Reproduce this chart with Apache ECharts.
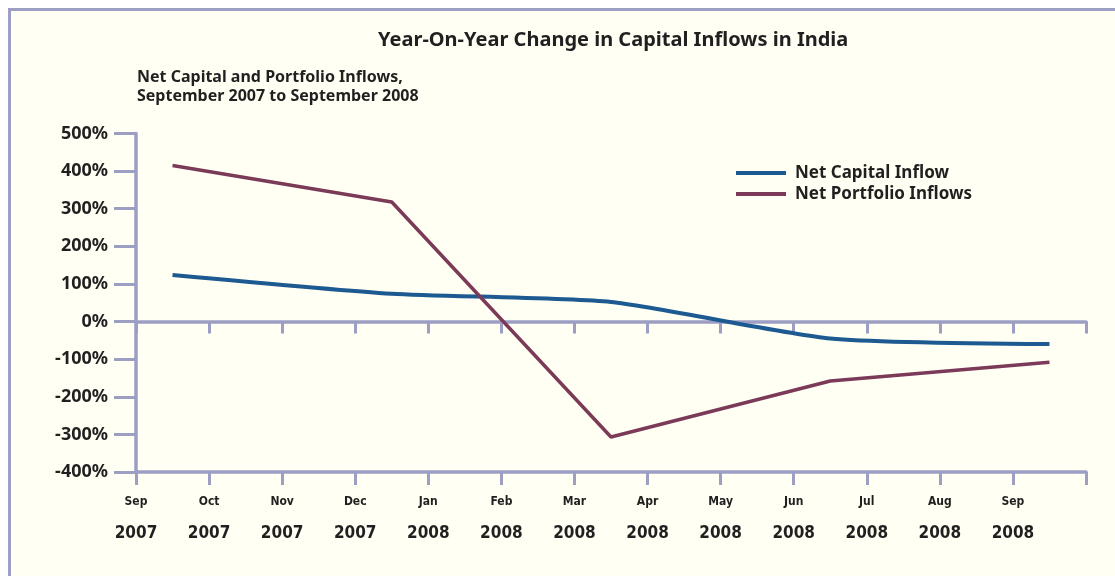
<!DOCTYPE html>
<html>
<head>
<meta charset="utf-8">
<script src="https://cdn.jsdelivr.net/npm/echarts@6/dist/echarts.min.js"></script>
<style>
  html, body { margin: 0; padding: 0; background: #fff; overflow: hidden; }
  #frame {
    position: absolute; left: 8px; top: 8px; width: 1300px; height: 800px;
    background: #fffff3; border-left: 3.5px solid #9c9ec3; border-top: 3.5px solid #9c9ec3;
  }
  #chart { position: absolute; left: 0; top: 0; width: 1115px; height: 576px; }
</style>
</head>
<body>
<div id="frame"></div>
<div id="chart"></div>
<script>
// month labels under the ticks
var months = ['Sep', 'Oct', 'Nov', 'Dec', 'Jan', 'Feb', 'Mar', 'Apr', 'May', 'Jun', 'Jul', 'Aug', 'Sep']
var years = ['2007', '2007', '2007', '2007', '2008', '2008', '2008', '2008', '2008', '2008', '2008', '2008', '2008']
// quarterly observations, index of the month they belong to
var quarterIdx = [0, 3, 6, 9, 12]
var netCapital = [124, 74, 52, -45, -60]
var netPortfolio = [415, 318, -307, -158, -108]

var axisColor = '#9c9ec3'
var textColor = '#231f20'
var font = 'Noto Sans'

function toPoints(vals) {
  // plot each quarter in the middle of its month
  return vals.map(function(v, i) {
    return [quarterIdx[i] + 0.5, v]
  })
}

var chart = echarts.init(document.getElementById('chart'))
var option = {
  animation: false,
  title: [
    {
      text: 'Year-On-Year Change in Capital Inflows in India',
      left: 378,
      top: 30,
      padding: 0,
      textStyle: { fontFamily: font, fontSize: 20, fontWeight: 'bold', color: textColor }
    },
    {
      text: 'Net Capital and Portfolio Inflows,\nSeptember 2007 to September 2008',
      left: 137,
      top: 68,
      padding: 0,
      textStyle: { fontFamily: font, fontSize: 16, fontWeight: 'bold', color: textColor, lineHeight: 19 }
    }
  ],
  legend: {
    orient: 'vertical',
    left: 736,
    top: 163,
    padding: 0,
    itemGap: 1,
    itemWidth: 50,
    itemHeight: 4,
    icon: 'rect',
    textStyle: { fontFamily: font, fontSize: 17, fontWeight: 'bold', color: textColor, lineHeight: 20, padding: [0, 0, 0, 4] },
    data: ['Net Capital Inflow', 'Net Portfolio Inflows']
  },
  grid: { left: 136, right: 29, top: 133.5, bottom: 104 },
  xAxis: [
    {
      type: 'value',
      min: 0,
      max: 13,
      interval: 1,
      position: 'bottom',
      axisLine: { onZero: false, lineStyle: { color: axisColor, width: 3.5 } },
      axisTick: { length: 13, lineStyle: { color: axisColor, width: 3 } },
      splitLine: { show: false },
      axisLabel: {
        margin: 12,
        formatter: function(v) {
          if (v >= months.length) return ''
          return '{m|' + months[v] + '}\n{y|' + years[v] + '}'
        },
        rich: {
          m: { fontFamily: 'DejaVu Sans Condensed', fontSize: 12, fontWeight: 'bold', color: textColor, lineHeight: 36 },
          y: { fontFamily: 'DejaVu Sans Condensed', fontSize: 17, fontWeight: 'bold', color: textColor, lineHeight: 28 }
        }
      }
    },
    {
      // the 0% line with its month ticks
      type: 'value',
      min: 0,
      max: 13,
      interval: 1,
      position: 'bottom',
      axisLine: { onZero: true, lineStyle: { color: axisColor, width: 3.5 } },
      axisTick: { length: 12, lineStyle: { color: axisColor, width: 3 } },
      axisLabel: { show: false },
      splitLine: { show: false }
    }
  ],
  yAxis: {
    type: 'value',
    min: -400,
    max: 500,
    interval: 100,
    axisLine: { show: true, onZero: false, lineStyle: { color: axisColor, width: 3.5 } },
    axisTick: { show: true, length: 22, lineStyle: { color: axisColor, width: 3 } },
    splitLine: { show: false },
    axisLabel: {
      margin: 28,
      formatter: '{value}%',
      fontFamily: font,
      fontSize: 18,
      fontWeight: 'bold',
      color: textColor
    }
  },
  series: [
    {
      name: 'Net Capital Inflow',
      type: 'line',
      xAxisIndex: 0,
      smooth: 0.2,
      symbol: 'none',
      color: '#1c5a91',
      lineStyle: { width: 4, color: '#1c5a91' },
      data: toPoints(netCapital)
    },
    {
      name: 'Net Portfolio Inflows',
      type: 'line',
      xAxisIndex: 0,
      symbol: 'none',
      color: '#7b3a57',
      lineStyle: { width: 3.5, color: '#7b3a57' },
      data: toPoints(netPortfolio)
    }
  ]
}
chart.setOption(option)
window.addEventListener('resize', function() {
  chart.resize()
})
</script>
</body>
</html>
